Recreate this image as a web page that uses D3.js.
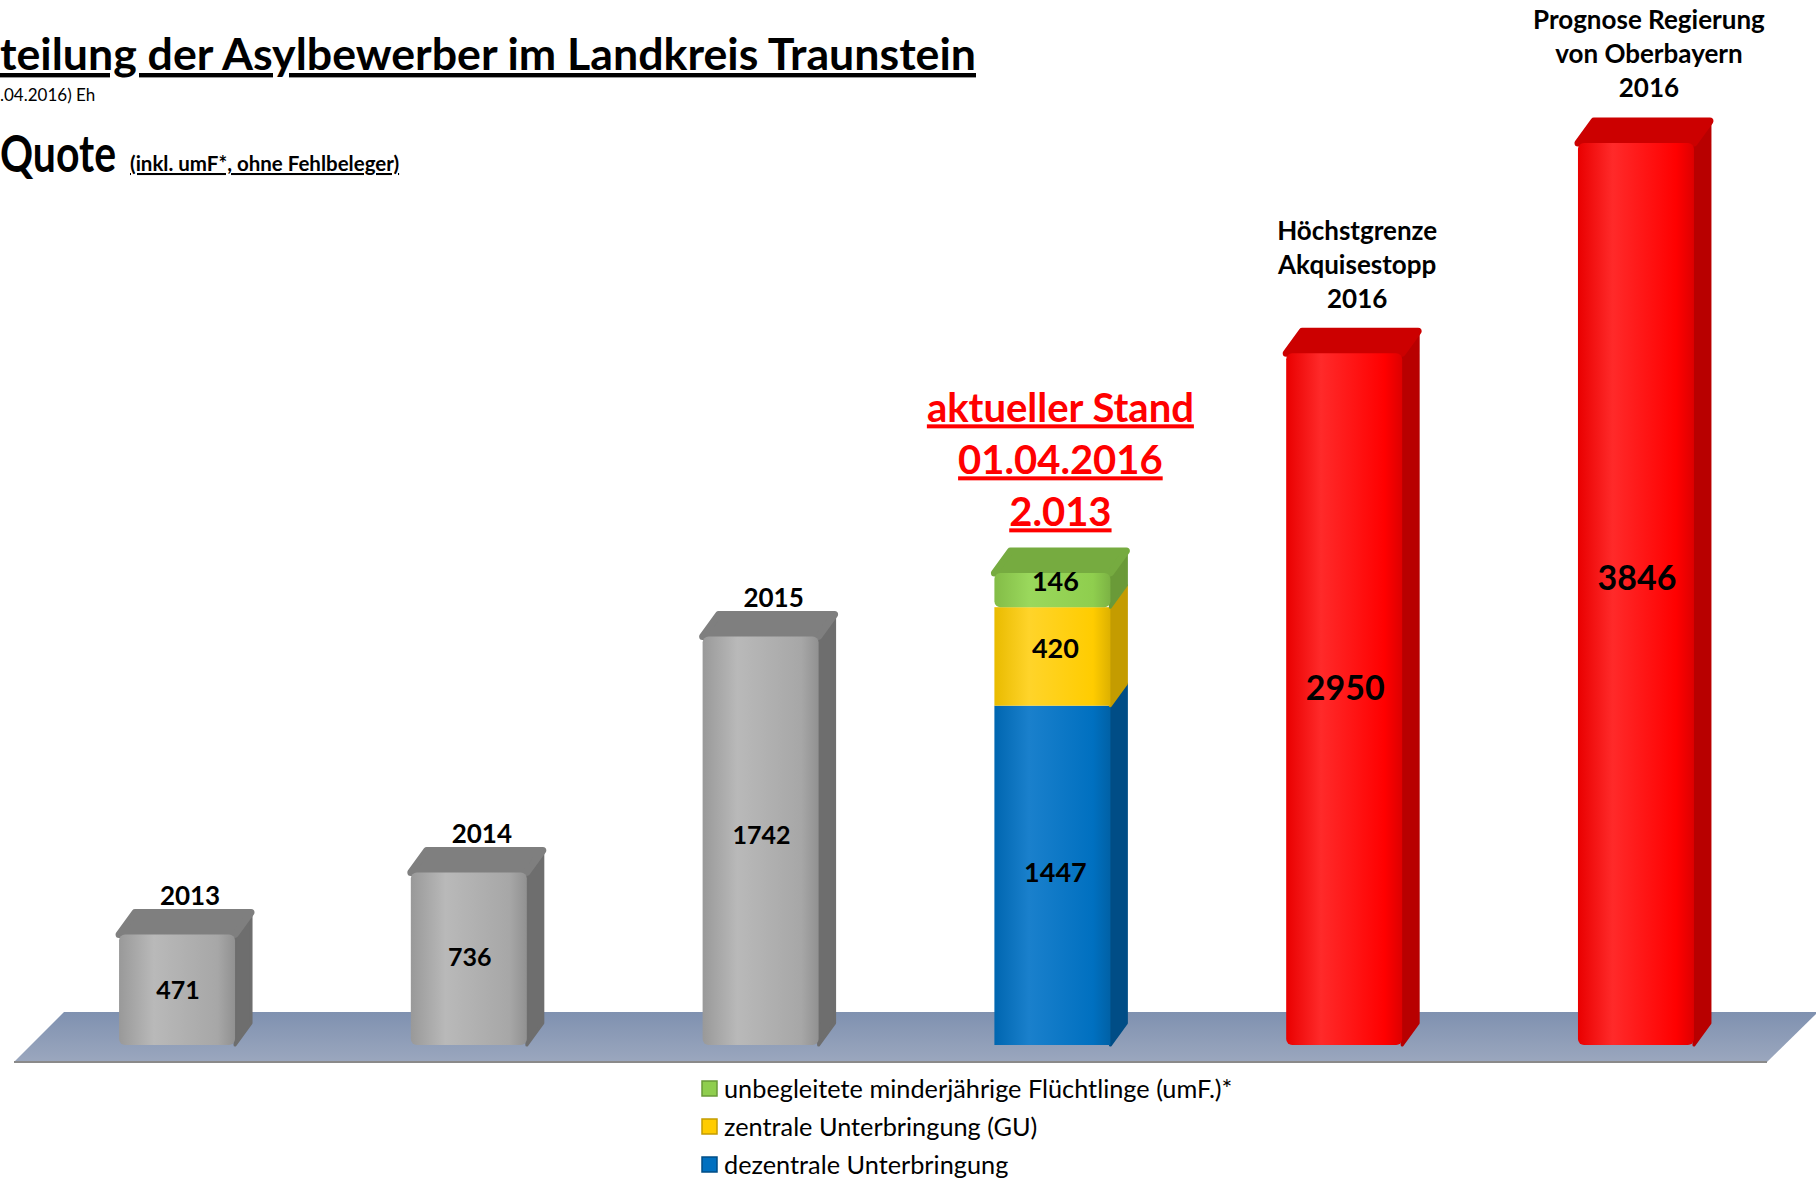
<!DOCTYPE html>
<html>
<head>
<meta charset="utf-8">
<script src="https://cdn.jsdelivr.net/npm/d3@7"></script>
<style>
  body { margin: 0; background: #fff; }
  svg { display: block; font-family: Lato, "Noto Sans", sans-serif; }
</style>
</head>
<body>
<svg id="chart"></svg>
<script>
// categories and values
var categories = ["2013", "2014", "2015", "2016a", "2016b", "2016c"];
var totals = [471, 736, 1742, 2013, 2950, 3846];
var barKind = ["gray", "gray", "gray", "stack", "red", "red"];
// stacked 2016 (bottom to top)
var stackKeys = ["dezentral", "zentral", "umF"];
var stackValues = [1447, 420, 146];
var legendLabels = ["unbegleitete minderjährige Flüchtlinge (umF.)*", "zentrale Unterbringung (GU)", "dezentrale Unterbringung"];
var legendKeys = ["umF", "zentral", "dezentral"];
// text above bars
var topLabels = [["2013"], ["2014"], ["2015"],
  ["aktueller Stand", "01.04.2016", "2.013"],
  ["Höchstgrenze", "Akquisestopp", "2016"],
  ["Prognose Regierung", "von Oberbayern", "2016"]];

var W = 1816, H = 1181;
var colors = {
  gray:      { front: "#a7a7a7", light: "#b9b9b9", side: "#6e6e6e", top: "#7f7f7f" },
  red:       { front: "#ff0000", light: "#ff2a2a", side: "#b80000", top: "#cc0000" },
  dezentral: { front: "#0070c0", light: "#1a80cc", side: "#004d86", top: "#005a9c" },
  zentral:   { front: "#ffcc00", light: "#ffd42a", side: "#c49c00", top: "#d9ad00" },
  umF:       { front: "#8fce4e", light: "#9ad85c", side: "#6a9a38", top: "#76ab40" }
};

var svg = d3.select("#chart").attr("width", W).attr("height", H);
var defs = svg.append("defs");

// gradients for bar fronts
Object.keys(colors).forEach(function(k) {
  var g = defs.append("linearGradient").attr("id", "g-" + k)
    .attr("x1", 0).attr("x2", 1).attr("y1", 0).attr("y2", 0);
  g.append("stop").attr("offset", "0%").attr("stop-color", d3.color(colors[k].front).darker(0.25));
  g.append("stop").attr("offset", "30%").attr("stop-color", colors[k].light);
  g.append("stop").attr("offset", "85%").attr("stop-color", colors[k].front);
  g.append("stop").attr("offset", "100%").attr("stop-color", d3.color(colors[k].front).darker(0.4));
});
var fg = defs.append("linearGradient").attr("id", "floor")
  .attr("x1", 0).attr("x2", 0).attr("y1", 0).attr("y2", 1);
fg.append("stop").attr("offset", "0%").attr("stop-color", "#7f91b0");
fg.append("stop").attr("offset", "100%").attr("stop-color", "#9ba7be");

// scales
var x = d3.scaleBand().domain(categories).range([0, 1813])
  .paddingInner(0.6025).paddingOuter(0.408);
var y = d3.scaleLinear().domain([0, 4000]).range([1045, 107]);
var dx = 16, dy = -22;

// floor
var fy0 = 1012, fy1 = 1062;
svg.append("path")
  .attr("d", "M64," + fy0 + "L1818," + fy0 + "L1767," + fy1 + "L14," + fy1 + "Z")
  .attr("fill", "url(#floor)");
svg.append("line").attr("x1", 14).attr("x2", 1767).attr("y1", fy1).attr("y2", fy1)
  .attr("stroke", "#8a8a8a").attr("stroke-width", 2);

// draws one 3D block between two values
function block(g, x0, v0, v1, c, withTop) {
  var w = x.bandwidth(), yb = y(v0), yt = y(v1);
  g.append("path")
    .attr("d", "M" + (x0 + w) + "," + yb + "L" + (x0 + w + dx) + "," + (yb + dy) +
      "L" + (x0 + w + dx) + "," + (yt + dy) + "L" + (x0 + w) + "," + yt + "Z")
    .attr("fill", colors[c].side).attr("stroke", colors[c].side)
    .attr("stroke-width", 3).attr("stroke-linejoin", "round");
  if (withTop) {
    g.append("path")
      .attr("d", "M" + x0 + "," + yt + "L" + (x0 + dx) + "," + (yt + dy) +
        "L" + (x0 + w + dx) + "," + (yt + dy) + "L" + (x0 + w) + "," + yt + "Z")
      .attr("fill", colors[c].top).attr("stroke", colors[c].top)
      .attr("stroke-width", 7).attr("stroke-linejoin", "round");
  }
  g.append("rect")
    .attr("x", x0).attr("y", yt).attr("width", w).attr("height", yb - yt)
    .attr("rx", withTop ? 6 : 0)
    .attr("fill", "url(#g-" + c + ")");
}

var bars = svg.append("g");
categories.forEach(function(cat, i) {
  var g = bars.append("g");
  var x0 = x(cat);
  if (barKind[i] === "stack") {
    var acc = 0;
    stackValues.forEach(function(v, j) {
      block(g, x0, acc, acc + v, stackKeys[j], j === stackValues.length - 1);
      acc += v;
    });
  } else {
    block(g, x0, 0, totals[i], barKind[i], true);
  }
});

// value labels (placed a little above the middle, like the 3D perspective)
var cx = function(cat) { return x(cat) + x.bandwidth() / 2; };
categories.forEach(function(cat, i) {
  if (barKind[i] === "stack") {
    var acc = 0;
    stackValues.forEach(function(v) {
      svg.append("text").attr("x", cx(cat) + 3).attr("y", y((acc + v / 2) * 1.02))
        .attr("dy", "0.36em").attr("text-anchor", "middle")
        .attr("font-weight", "bold").attr("font-size", 27).text(v);
      acc += v;
    });
  } else {
    svg.append("text").attr("x", cx(cat) + 1).attr("y", y(totals[i] * 0.52) + 2)
      .attr("dy", "0.36em").attr("text-anchor", "middle")
      .attr("font-weight", "bold")
      .attr("font-size", barKind[i] === "red" ? 34 : 25)
      .text(totals[i]);
  }
});

// labels above bars
categories.forEach(function(cat, i) {
  var lines = topLabels[i];
  var red = barKind[i] === "stack";
  var lh = red ? 52 : (lines.length > 1 ? 34 : 0);
  var gap = red ? 61 : (lines.length > 1 ? 55 : 39);
  var lastY = y(totals[i]) - gap;
  lines.forEach(function(t, k) {
    svg.append("text")
      .attr("x", cx(cat) + dx / 2 + (red ? 0 : 5))
      .attr("y", lastY - (lines.length - 1 - k) * lh)
      .attr("dy", "0.36em").attr("text-anchor", "middle")
      .attr("font-weight", "bold")
      .attr("font-size", red ? 40 : 26)
      .attr("fill", red ? "#ff0000" : "#000")
      .style("text-decoration", red ? "underline" : null)
      .text(t);
  });
});

// titles (cut at the left edge as in the picture)
svg.append("text").attr("x", 0).attr("y", 70)
  .attr("font-weight", "bold").attr("font-size", 44)
  .attr("textLength", 976).attr("lengthAdjust", "spacingAndGlyphs")
  .style("text-decoration", "underline")
  .text("teilung der Asylbewerber im Landkreis Traunstein");
svg.append("text").attr("x", 0).attr("y", 101)
  .attr("font-size", 17).text(".04.2016) Eh");
svg.append("text").attr("x", 0).attr("y", 172)
  .attr("font-weight", "bold").attr("font-size", 52)
  .attr("textLength", 116).attr("lengthAdjust", "spacingAndGlyphs")
  .text("Quote");
svg.append("text").attr("x", 130).attr("y", 171)
  .attr("font-weight", "bold").attr("font-size", 20.5)
  .style("text-decoration", "underline")
  .text("(inkl. umF*, ohne Fehlbeleger)");

// legend
var leg = svg.append("g").attr("transform", "translate(702,1089)");
legendLabels.forEach(function(t, i) {
  var row = leg.append("g").attr("transform", "translate(0," + i * 38 + ")");
  var c = colors[legendKeys[i]];
  row.append("rect").attr("x", 0).attr("y", -8).attr("width", 15).attr("height", 15)
    .attr("fill", c.front).attr("stroke", c.side).attr("stroke-width", 1.5);
  row.append("text").attr("x", 22).attr("y", 0).attr("dy", "0.36em")
    .attr("font-size", 25.3).text(t);
});
</script>
</body>
</html>
